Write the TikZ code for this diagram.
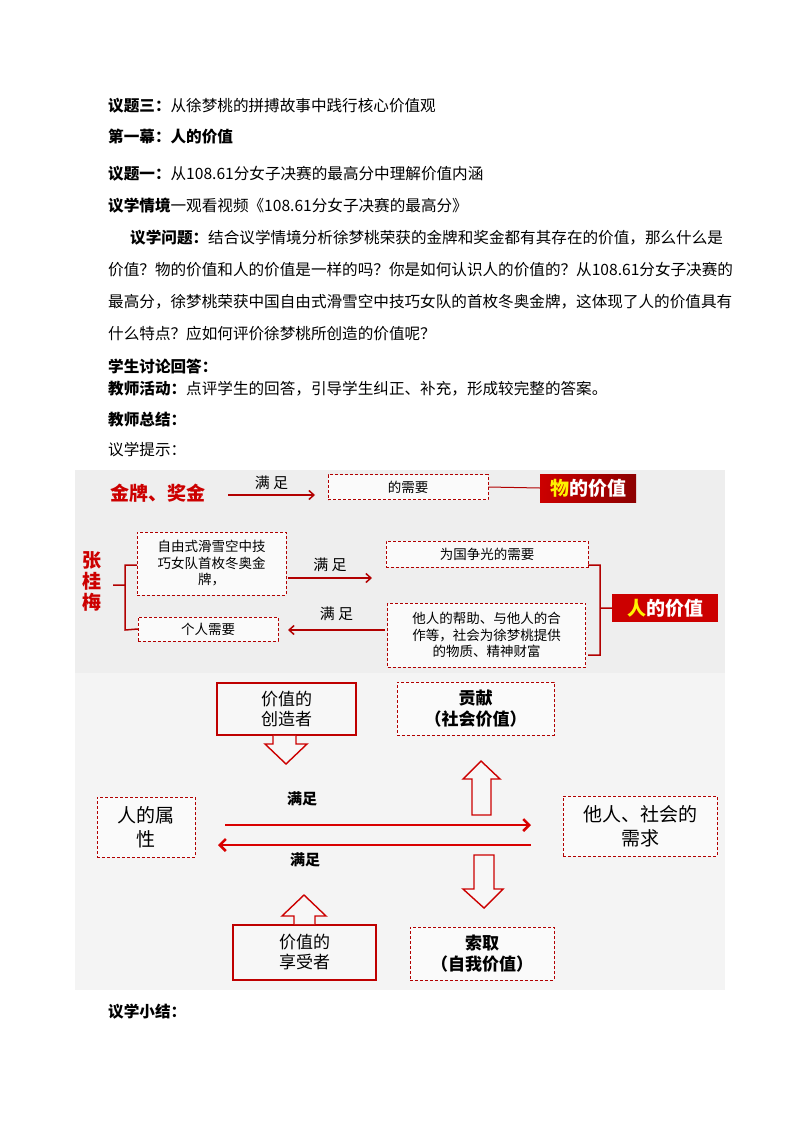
\documentclass[tikz,border=0pt]{standalone}
\usepackage{fontspec}
\usetikzlibrary{arrows.meta}
\setmainfont{Noto Sans CJK SC}
\begin{document}
\begin{tikzpicture}[x=1pt,y=-1pt,
 body/.style={anchor=west,inner sep=0pt,font=\fontsize{15.6}{15.6}\selectfont},
 dbox/.style={draw=red!70!black,densely dashed,thin,fill=white!96!gray,align=center,inner sep=2pt,font=\fontsize{13.5}{16.5}\selectfont},
 sbox/.style={draw=red!75!black,line width=1.5pt,fill=white!94!gray,align=center,font=\fontsize{17}{20}\selectfont},
 rarr/.style={draw=red!70!black,line width=1.5pt,-{Straight Barb[length=5pt,width=9pt]}},
 barr/.style={draw=red!85!black,line width=2.5pt,-{Straight Barb[length=6pt,width=12pt]}},
 lab/.style={font=\fontsize{15}{15}\selectfont},
 hol/.style={draw=red!80!black,line width=1.4pt,fill=white!94!gray,line join=miter},
 tag/.style={fill=red!75!black,text=white,font=\bfseries\fontsize{19}{19}\selectfont,inner sep=2pt,minimum height=28pt}]
\useasboundingbox (0,0) rectangle (794,1123);
\fill[white] (0,0) rectangle (794,1123);
% text
\node[body] (t1) at (108,106) {\textbf{议题三：}从徐梦桃的拼搏故事中践行核心价值观};
\node[body] (t2) at (108,137) {\textbf{第一幕：人的价值}};
\node[body] (t3) at (108,174) {\textbf{议题一：}从108.61分女子决赛的最高分中理解价值内涵};
\node[body] (t4) at (108,206) {\textbf{议学情境}一观看视频《108.61分女子决赛的最高分》};
\node[body] (t5) at (130,238) {\textbf{议学问题：}结合议学情境分析徐梦桃荣获的金牌和奖金都有其存在的价值，那么什么是};
\node[body] (t6) at (108,270) {价值？物的价值和人的价值是一样的吗？你是如何认识人的价值的？从108.61分女子决赛的};
\node[body] (t7) at (108,302) {最高分，徐梦桃荣获中国自由式滑雪空中技巧女队的首枚冬奥金牌，这体现了人的价值具有};
\node[body] (t8) at (108,334) {什么特点？应如何评价徐梦桃所创造的价值呢？};
\node[body] (t9) at (108,366) {\textbf{学生讨论回答：}};
\node[body] (t10) at (108,389) {\textbf{教师活动：}点评学生的回答，引导学生纠正、补充，形成较完整的答案。};
\node[body] (t11) at (108,420) {\textbf{教师总结：}};
\node[body] (t12) at (108,450) {议学提示：};
\node[body] (t13) at (108,1012) {\textbf{议学小结：}};
% panel 1
\fill[gray!13] (75,470) rectangle (725,673);
\fill[gray!9] (75,673) rectangle (725,990);
\node[text=red!80!black,font=\bfseries\fontsize{19}{19}\selectfont] (jp) at (158,493) {金牌、奖金};
\node[dbox,minimum width=160pt,minimum height=25pt] (xy) at (408,487) {的需要};
\node[tag,left color=red!80!black,right color=red!55!black,minimum width=96pt] (wj) at (588,488) {\textcolor{yellow}{物}的价值};
\coordinate (a1s) at (228,495);\coordinate (a1e) at (315,495);
\draw[rarr] (a1s) -- node[lab,above=1pt]{满 足} (a1e);
\draw[red!70!black,line width=1pt] (xy.east) -- (wj.west);
\node[text=red!80!black,font=\bfseries\fontsize{19}{19}\selectfont,align=center,text width=20pt] (zg) at (92,581) {张\\[2pt]桂\\[2pt]梅};
\node[dbox,text width=145pt,minimum height=63pt] (b1) at (211.5,563.5) {自由式滑雪空中技\\巧女队首枚冬奥金\\牌，};
\node[dbox,minimum width=140pt,minimum height=24pt] (b2) at (208,629) {个人需要};
\node[dbox,minimum width=202pt,minimum height=26pt] (b3) at (487,554) {为国争光的需要};
\node[dbox,text width=194pt,minimum height=64pt] (b4) at (486.5,635) {他人的帮助、与他人的合\\作等，社会为徐梦桃提供\\的物质、精神财富};
\node[tag,fill=red!80!black,minimum width=106pt] (rj) at (665,608) {\textcolor{yellow}{人}的价值};
\draw[red!70!black,line width=1.5pt] (113,585) -- (125,585) (137,565) -- (125,565) -- (125,630) -- (b2.west);
\draw[red!70!black,line width=1.5pt] (b3.south east) ++(0,-2) coordinate (c1) -- ++(12,0) coordinate (c2) -- (600,655) -- (588,655) (600,608) -- (rj.west);
\coordinate (a2s) at (288,578);\coordinate (a2e) at (372,578);
\draw[rarr] (a2s) -- node[lab,above=2pt]{满 足} (a2e);
\coordinate (a3s) at (385,630);\coordinate (a3e) at (288,630);
\draw[rarr] (a3s) -- node[lab,above=5pt]{满 足} (a3e);
% panel 2
\node[sbox,minimum width=139pt,minimum height=52pt] (cz) at (286.5,709) {价值的\\创造者};
\node[sbox,minimum width=143pt,minimum height=55pt] (xs) at (304.5,952.5) {价值的\\享受者};
\node[dbox,minimum width=157pt,minimum height=53pt,font=\bfseries\fontsize{17}{21}\selectfont] (gx) at (475.5,708.5) {贡献\\（社会价值）};
\node[dbox,minimum width=144pt,minimum height=53pt,font=\bfseries\fontsize{17}{21}\selectfont] (sq) at (482,953.5) {索取\\（自我价值）};
\node[dbox,minimum width=98pt,minimum height=60pt,font=\fontsize{19}{24}\selectfont] (rs) at (146,827) {人的属\\性};
\node[dbox,minimum width=154pt,minimum height=60pt,font=\fontsize{19}{24}\selectfont] (sh) at (640,826) {他人、社会的\\需求};
\coordinate (b1s) at (225,825);\coordinate (b1e) at (531,825);
\coordinate (b2s) at (531,845);\coordinate (b2e) at (218,845);
\draw[barr] (b1s) -- (b1e);
\draw[barr] (b2s) -- (b2e);
\node[lab,font=\bfseries\fontsize{15}{15}\selectfont] (m1) at (302,799) {满足};
\node[lab,font=\bfseries\fontsize{15}{15}\selectfont] (m2) at (305,860) {满足};
% hollow arrows
\draw[hol] (273,735.8) -- (273,744) -- (265,744) -- (286,764) -- (307,744) -- (296,744) -- (296,735.8);
\draw[hol] (472,815) -- (472,779) -- (463,779) -- (481,761) -- (500,779) -- (491,779) -- (491,815) -- cycle;
\draw[hol] (474,855) -- (474,889) -- (463,889) -- (484,908) -- (503,889) -- (494,889) -- (494,855) -- cycle;
\draw[hol] (294,924.2) -- (294,916) -- (282,916) -- (304,895) -- (326,916) -- (315,916) -- (315,924.2);
\end{tikzpicture}
\end{document}
